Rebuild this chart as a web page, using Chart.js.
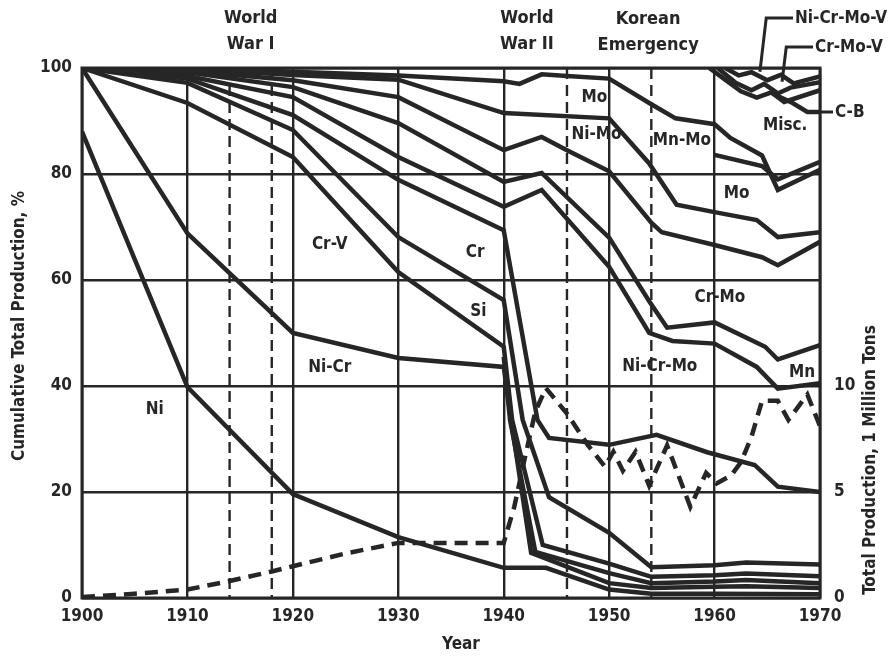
<!DOCTYPE html>
<html>
<head>
<meta charset="utf-8">
<script src="https://cdn.jsdelivr.net/npm/chart.js@4.4.0/dist/chart.umd.min.js"></script>
<style>
    html, body { margin: 0; padding: 0; background: #fff; }
    #contenedor { width: 892px; height: 659px; }
</style>
</head>
<body>
<div id="contenedor"><canvas id="grafica"></canvas></div>
<script>
// Limites acumulados [año, %]
const lineaNi = [[1900, 88], [1910, 39.8], [1920, 19.6], [1930, 11.5], [1940, 5.7], [1944, 5.7], [1950, 1.6], [1954, 0.8], [1960, 0.8], [1970, 0.7]];
const lineaNiCr = [[1900, 100], [1910, 68.8], [1920, 50], [1930, 45.3], [1940, 43.6], [1940.7, 33.6], [1942.6, 8.5], [1950, 2.8], [1954, 1.9], [1960, 2.1], [1963, 2.2], [1970, 1.9]];
const lineaExtra = [[1940, 45.5], [1940.6, 33.6], [1943, 8.7], [1950, 4.7], [1954, 2.8], [1960, 3.1], [1963, 3.4], [1970, 2.8]];
const lineaCrV = [[1900, 100], [1910, 93.4], [1920, 83.2], [1930, 61.5], [1940, 47.4], [1940.8, 33.6], [1943.7, 10], [1950, 6.5], [1954, 4], [1960, 4.3], [1963, 4.6], [1970, 4.1]];
const lineaSi = [[1900, 100], [1910, 97.2], [1920, 88.3], [1930, 68.1], [1940, 56.2], [1941.8, 33.6], [1944.3, 19], [1950, 12.3], [1954, 5.8], [1960, 6.2], [1963, 6.7], [1970, 6.3]];
const lineaCr = [[1900, 100], [1910, 98], [1920, 91.1], [1930, 78.9], [1940, 69.4], [1943.2, 33.6], [1944.3, 30.2], [1950, 28.9], [1954.5, 30.8], [1959.3, 27.5], [1963.8, 25.1], [1966, 21], [1970, 20]];
const lineaE = [[1900, 100], [1910, 98.5], [1920, 94.5], [1930, 83.2], [1940, 73.8], [1943.6, 77], [1950, 62.5], [1953.8, 50], [1956, 48.5], [1960, 48], [1964, 43.6], [1966, 39.5], [1970, 40.5]];
const lineaD = [[1900, 100], [1910, 99.2], [1920, 96.4], [1930, 89.6], [1940, 78.5], [1943.6, 80.2], [1950, 68], [1953.8, 56], [1955.5, 51], [1960, 52], [1964.8, 47.4], [1966, 45], [1970, 47.7]];
const lineaC = [[1900, 100], [1910, 99.5], [1920, 97.7], [1930, 94.5], [1940, 84.5], [1943.6, 87], [1946, 84.5], [1950, 80.5], [1954, 70.8], [1955, 69], [1960, 66.6], [1964.5, 64.3], [1966, 62.8], [1970, 67.2]];
const lineaB = [[1900, 100], [1910, 99.8], [1920, 98.7], [1930, 97.8], [1940, 91.5], [1950, 90.5], [1953.8, 82], [1956.4, 74.2], [1960, 72.8], [1964, 71.3], [1966, 68.1], [1970, 69]];
const lineaA = [[1900, 100], [1910, 100], [1920, 99.3], [1930, 98.6], [1940, 97.5], [1941.5, 97], [1943.6, 98.8], [1946, 98.5], [1950, 98], [1953.8, 93.4], [1956.3, 90.5], [1960, 89.4], [1961.5, 86.8], [1964.5, 83.5], [1966, 77], [1970, 80.8]];
const lineaMisc = [[1960, 83.6], [1964.5, 81.5], [1966, 79], [1970, 82.3]];
const lineaW1 = [[1961, 100], [1962.3, 98.6], [1963.5, 99.2], [1965, 97.7], [1966.3, 98.7], [1967.5, 97.1], [1970, 98.4]];
const lineaW2 = [[1960.3, 100], [1962, 97.2], [1963.5, 95.8], [1964.7, 97], [1966, 95.2], [1967.2, 96.3], [1970, 97.3]];
const lineaW3 = [[1959.5, 100], [1961, 97.8], [1962.5, 95.6], [1964, 94.4], [1965.4, 95.4], [1966.6, 93.6], [1970, 95.8]];
const lineaCB = [[1965.5, 95.2], [1967.4, 93.4], [1968.8, 91.7], [1970, 91.7]];

// Produccion total anual, millones de toneladas (eje derecho)
const produccion = [[1900, 0.05], [1905, 0.2], [1910, 0.4], [1914, 0.8], [1918, 1.25], [1920, 1.5], [1925, 2.1], [1930, 2.6], [1935, 2.6], [1940, 2.6],
    [1941, 4.3], [1942, 6.6], [1943, 8.8], [1944, 9.9], [1946, 8.7], [1948, 7.2], [1949.6, 6.2], [1950.4, 6.9], [1951.3, 6.0], [1952.5, 6.9],
    [1953.8, 5.3], [1955.5, 7.2], [1957.7, 4.3], [1959.2, 5.9], [1960.2, 5.4], [1961.6, 5.8], [1962.5, 6.4], [1963.5, 7.6], [1964.5, 9.3],
    [1966, 9.3], [1967, 8.4], [1968.8, 9.6], [1970, 8.1]];

const anios = [1900, 1910, 1920, 1930, 1940, 1950, 1960, 1970];
const ticksIzq = [0, 20, 40, 60, 80, 100];
const ticksDer = [0, 5, 10];
const aniosGuerra = [1914, 1918, 1946, 1954];

const etiquetas = ['Ni', 'Ni-Cr', 'Cr-V', 'Cr', 'Si', 'Mo', 'Ni-Mo', 'Mn-Mo', 'Misc.', 'Mo', 'Cr-Mo', 'Ni-Cr-Mo', 'Mn'];
const etiquetasAnio = [1906.9, 1923.5, 1923.5, 1937.3, 1937.6, 1948.6, 1948.8, 1956.9, 1966.7, 1962.1, 1960.5, 1954.8, 1968.3];
const etiquetasPct = [35.5, 43.4, 66.6, 65.1, 54, 94.5, 87.4, 86.4, 89.2, 76.4, 56.6, 43.6, 42.6];

const fuente = '"Liberation Sans Narrow", "DejaVu Sans Condensed", "Arial Narrow", sans-serif';
const negro = '#262626';

function puntos(lista) {
    return lista.map(p => ({ x: p[0], y: p[1] }));
}

const limites = [lineaNi, lineaNiCr, lineaExtra, lineaCrV, lineaSi, lineaCr, lineaE, lineaD, lineaC, lineaB, lineaA, lineaMisc, lineaW1, lineaW2, lineaW3, lineaCB];

const conjuntos = limites.map(l => ({
    data: puntos(l),
    borderColor: negro,
    borderWidth: 4.5,
    pointRadius: 0,
    tension: 0,
    fill: false,
    yAxisID: 'y'
}));
conjuntos.push({
    data: puntos(produccion),
    borderColor: negro,
    borderWidth: 4.5,
    borderDash: [13, 8],
    pointRadius: 0,
    tension: 0,
    fill: false,
    yAxisID: 'y2'
});

function texto(ctx, t, x, y, tam, alinear) {
    ctx.font = 'bold ' + tam + 'px ' + fuente;
    ctx.textAlign = alinear || 'center';
    ctx.textBaseline = 'middle';
    ctx.fillStyle = negro;
    ctx.fillText(t, x, y);
}

const adornos = {
    id: 'adornos',
    beforeDatasetsDraw(chart) {
        const ctx = chart.ctx;
        const a = chart.chartArea;
        const x = chart.scales.x;
        ctx.save();
        ctx.strokeStyle = negro;
        ctx.lineWidth = 2.4;
        ctx.setLineDash([11, 6]);
        aniosGuerra.forEach(an => {
            const px = x.getPixelForValue(an);
            ctx.beginPath();
            ctx.moveTo(px, a.top);
            ctx.lineTo(px, a.bottom);
            ctx.stroke();
        });
        ctx.restore();
    },
    afterDatasetsDraw(chart) {
        const ctx = chart.ctx;
        const a = chart.chartArea;
        const x = chart.scales.x;
        const y = chart.scales.y;
        ctx.save();
        ctx.strokeStyle = negro;
        ctx.lineWidth = 3;
        ctx.strokeRect(a.left, a.top, a.right - a.left, a.bottom - a.top);

        etiquetas.forEach((t, i) => {
            texto(ctx, t, x.getPixelForValue(etiquetasAnio[i]), y.getPixelForValue(etiquetasPct[i]), 17);
        });

        // periodos arriba
        texto(ctx, 'World', x.getPixelForValue(1916), 18, 18);
        texto(ctx, 'War I', x.getPixelForValue(1916), 44, 18);
        texto(ctx, 'World', x.getPixelForValue(1942.2), 18, 18);
        texto(ctx, 'War II', x.getPixelForValue(1942.2), 44, 18);
        texto(ctx, 'Korean', x.getPixelForValue(1953.7), 19, 18);
        texto(ctx, 'Emergency', x.getPixelForValue(1953.7), 45, 18);

        // lineas guia de la derecha
        ctx.lineWidth = 3;
        ctx.setLineDash([]);
        ctx.beginPath();
        ctx.moveTo(x.getPixelForValue(1964.3), y.getPixelForValue(99.3));
        ctx.lineTo(x.getPixelForValue(1964.9), 18);
        ctx.lineTo(a.right - 27, 18);
        ctx.moveTo(x.getPixelForValue(1966.4), y.getPixelForValue(97.4));
        ctx.lineTo(x.getPixelForValue(1966.8), 47);
        ctx.lineTo(a.right - 7, 47);
        ctx.moveTo(a.right, y.getPixelForValue(91.7));
        ctx.lineTo(a.right + 13, y.getPixelForValue(91.7));
        ctx.stroke();
        texto(ctx, 'Ni-Cr-Mo-V', a.right - 25, 19, 17, 'left');
        texto(ctx, 'Cr-Mo-V', a.right - 5, 48, 17, 'left');
        texto(ctx, 'C-B', a.right + 15, y.getPixelForValue(91.7) + 1, 17, 'left');

        // titulos de ejes
        texto(ctx, 'Year', (a.left + a.right) / 2 + 10, 645, 17);
        ctx.save();
        ctx.translate(20, 326);
        ctx.rotate(-Math.PI / 2);
        texto(ctx, 'Cumulative Total Production, %', 0, 0, 17);
        ctx.restore();
        ctx.save();
        ctx.translate(871, 460);
        ctx.rotate(-Math.PI / 2);
        texto(ctx, 'Total Production, 1 Million Tons', 0, 0, 17);
        ctx.restore();
        ctx.restore();
    }
};

const estiloTicks = { font: { family: fuente, size: 17, weight: 'bold' }, color: negro };

const ctx = document.getElementById('grafica').getContext('2d');
let grafica = new Chart(ctx, {
    type: 'line',
    data: { datasets: conjuntos },
    options: {
        responsive: true,
        maintainAspectRatio: false,
        animation: false,
        layout: { padding: { top: 68, left: 0, right: 0, bottom: 0 } },
        plugins: { legend: { display: false }, tooltip: { enabled: false } },
        scales: {
            x: {
                type: 'linear',
                min: 1900,
                max: 1970,
                afterFit: s => { s.height = 61; },
                afterBuildTicks: s => { s.ticks = anios.map(v => ({ value: v })); },
                ticks: { ...estiloTicks, padding: 8, maxRotation: 0, callback: v => String(v) },
                grid: { color: negro, lineWidth: 2.4, drawTicks: false },
                border: { display: false }
            },
            y: {
                position: 'left',
                min: 0,
                max: 100,
                afterFit: s => { s.width = 82; },
                afterBuildTicks: s => { s.ticks = ticksIzq.map(v => ({ value: v })); },
                ticks: { ...estiloTicks, padding: 10 },
                grid: { color: negro, lineWidth: 2.4, drawTicks: false },
                border: { display: false }
            },
            y2: {
                position: 'right',
                min: 0,
                max: 25,
                afterFit: s => { s.width = 72; },
                afterBuildTicks: s => { s.ticks = ticksDer.map(v => ({ value: v })); },
                ticks: { ...estiloTicks, padding: 14 },
                grid: { display: false, drawTicks: false },
                border: { display: false }
            }
        }
    },
    plugins: [adornos]
});
</script>
</body>
</html>
